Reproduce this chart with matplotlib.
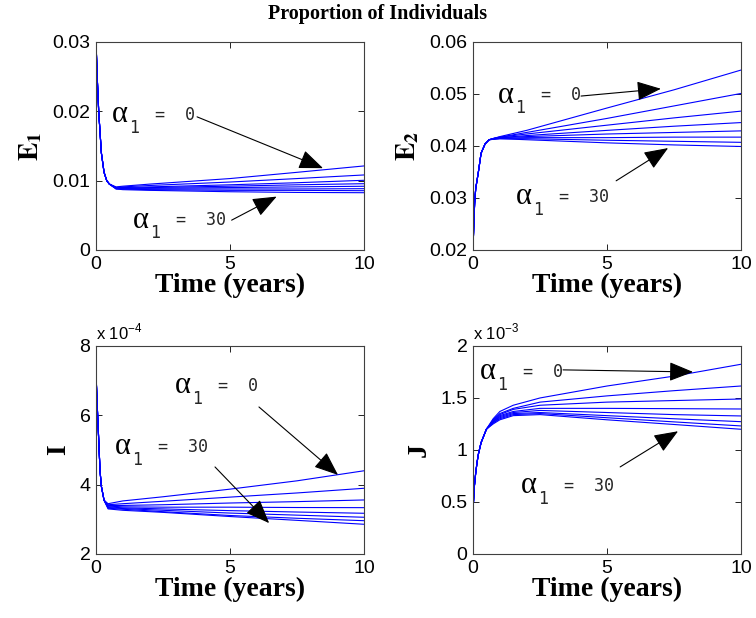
import matplotlib.pyplot as plt

plt.rcParams['font.family'] = 'Liberation Sans'
plt.rcParams['mathtext.fontset'] = 'stix'

# --- values ---
# E1 panel: shared fast transient, then 8 curves (alpha1 = 0 ... 30)
e1_t_early = [0, 0.05, 0.1, 0.2, 0.3, 0.4, 0.5]
e1_early = [0.0300, 0.0245, 0.0200, 0.0140, 0.0112, 0.0100, 0.0095]
e1_t_late = [0.75, 1, 2, 5, 7.5, 10]
e1_late = [
    [0.0091, 0.0092, 0.0095, 0.0103, 0.0112, 0.01212],
    [0.0090, 0.0091, 0.0093, 0.0098, 0.0103, 0.01082],
    [0.0090, 0.0090, 0.0091, 0.0094, 0.0097, 0.01005],
    [0.0089, 0.0089, 0.0090, 0.0092, 0.0094, 0.00956],
    [0.0089, 0.0089, 0.0089, 0.0090, 0.0091, 0.00919],
    [0.0089, 0.0088, 0.0088, 0.0088, 0.0088, 0.00884],
    [0.0088, 0.0088, 0.0087, 0.0086, 0.0086, 0.00855],
    [0.0088, 0.0087, 0.0086, 0.0084, 0.0083, 0.00826],
]

# E2 panel
e2_t_early = [0, 0.03, 0.06, 0.1, 0.2, 0.3, 0.45, 0.6]
e2_early = [0.0200, 0.0250, 0.0290, 0.0318, 0.0350, 0.0386, 0.0404, 0.0412]
e2_t_late = [0.8, 1, 2, 5, 7.5, 10]
e2_late = [
    [0.0415, 0.0418, 0.0430, 0.0473, 0.0508, 0.0546],
    [0.0415, 0.0417, 0.0426, 0.0453, 0.0477, 0.0501],
    [0.0415, 0.0417, 0.0423, 0.0440, 0.0454, 0.0467],
    [0.0414, 0.0416, 0.0420, 0.0430, 0.0438, 0.0445],
    [0.0414, 0.0416, 0.0418, 0.0423, 0.0426, 0.0429],
    [0.0414, 0.0415, 0.0416, 0.0416, 0.0417, 0.0417],
    [0.0413, 0.0414, 0.0414, 0.0411, 0.0409, 0.0407],
    [0.0413, 0.0414, 0.0412, 0.0406, 0.0402, 0.0399],
]

# I panel (units of 1e-4)
i_t_early = [0, 0.05, 0.1, 0.15, 0.2, 0.3]
i_early = [7.2, 6.2, 5.3, 4.4, 3.95, 3.55]
i_t_late = [0.45, 1, 2.5, 5, 7.5, 10]
i_late = [
    [3.45, 3.53, 3.65, 3.87, 4.11, 4.40],
    [3.42, 3.45, 3.52, 3.64, 3.76, 3.895],
    [3.40, 3.40, 3.42, 3.47, 3.51, 3.558],
    [3.38, 3.36, 3.35, 3.35, 3.34, 3.336],
    [3.36, 3.33, 3.30, 3.25, 3.21, 3.174],
    [3.34, 3.31, 3.26, 3.18, 3.12, 3.059],
    [3.32, 3.29, 3.22, 3.11, 3.03, 2.96],
    [3.30, 3.26, 3.20, 3.08, 2.97, 2.857],
]

# J panel (units of 1e-3)
j_t_early = [0, 0.05, 0.1, 0.15, 0.2, 0.3, 0.5]
j_early = [0.42, 0.65, 0.78, 0.88, 0.96, 1.07, 1.20]
j_t_late = [0.75, 1, 1.5, 2.5, 5, 7.5, 10]
j_late = [
    [1.30, 1.37, 1.43, 1.50, 1.615, 1.71, 1.824],
    [1.29, 1.35, 1.40, 1.46, 1.52, 1.57, 1.615],
    [1.28, 1.34, 1.39, 1.43, 1.46, 1.475, 1.490],
    [1.27, 1.33, 1.37, 1.40, 1.40, 1.397, 1.394],
    [1.27, 1.32, 1.36, 1.38, 1.36, 1.34, 1.327],
    [1.26, 1.31, 1.35, 1.36, 1.33, 1.30, 1.272],
    [1.26, 1.30, 1.34, 1.35, 1.31, 1.27, 1.231],
    [1.25, 1.29, 1.33, 1.34, 1.29, 1.245, 1.199],
]

x_ticks = [0, 5, 10]
e1_ticks = [0, 0.01, 0.02, 0.03]
e1_labels = ['0', '0.01', '0.02', '0.03']
e2_ticks = [0.02, 0.03, 0.04, 0.05, 0.06]
e2_labels = ['0.02', '0.03', '0.04', '0.05', '0.06']
i_ticks = [2, 4, 6, 8]
i_labels = ['2', '4', '6', '8']
j_ticks = [0, 0.5, 1, 1.5, 2]
j_labels = ['0', '0.5', '1', '1.5', '2']

serif = 'Liberation Serif'
mono = 'DejaVu Sans Mono'


def panel(ax, t_early, early, t_late, late, ylim, yticks, ylabels, ylab):
    for row in late:
        ax.plot(t_early + t_late, early + row, color='b', lw=0.8)
    ax.set_xlim(0, 10)
    ax.set_ylim(*ylim)
    ax.set_xticks(x_ticks)
    ax.set_xticklabels([str(v) for v in x_ticks])
    ax.set_yticks(yticks)
    ax.set_yticklabels(ylabels)
    ax.tick_params(direction='in', top=True, right=True, length=4,
                   labelsize=14, pad=4, width=0.6)
    for s in ax.spines.values():
        s.set_linewidth(0.8)
        s.set_color('0.25')
    ax.set_xlabel('Time (years)', fontsize=20, fontweight='bold',
                  family=serif, labelpad=0)
    ax.set_ylabel(ylab, fontsize=20, fontweight='bold', family=serif,
                  labelpad=6)


def alpha_label(ax, x, y, val):
    ax.text(x, y, 'α', fontsize=22, va='center', ha='left', family=serif)
    ax.annotate('1', xy=(x, y), xytext=(12.5, -9.5), textcoords='offset points',
                fontsize=12, family=mono, va='center', ha='left', color='0.15')
    ax.annotate('=  ' + val, xy=(x, y), xytext=(31, 0),
                textcoords='offset points', fontsize=12, family=mono,
                va='center', ha='left', color='0.15')


def arrow(ax, start, tip):
    ax.annotate('', xy=tip, xytext=start,
                arrowprops=dict(arrowstyle='-|>,head_length=0.75,head_width=0.3',
                                color='k', lw=0.8, shrinkA=0, shrinkB=0,
                                mutation_scale=20))


fig = plt.figure(figsize=(7.56, 6.18), dpi=100)
w, h = 0.3545, 0.3366
ax1 = fig.add_axes([0.127, 0.5955, w, h])
ax2 = fig.add_axes([0.6257, 0.5955, w, h])
ax3 = fig.add_axes([0.127, 0.1036, w, h])
ax4 = fig.add_axes([0.6257, 0.1036, w, h])

panel(ax1, e1_t_early, e1_early, e1_t_late, e1_late, (0, 0.03),
      e1_ticks, e1_labels, r'$\mathbf{E_1}$')
panel(ax2, e2_t_early, e2_early, e2_t_late, e2_late, (0.02, 0.06),
      e2_ticks, e2_labels, r'$\mathbf{E_2}$')
panel(ax3, i_t_early, i_early, i_t_late, i_late, (2, 8),
      i_ticks, i_labels, 'I')
panel(ax4, j_t_early, j_early, j_t_late, j_late, (0, 2),
      j_ticks, j_labels, 'J')

ax3.text(0.0, 1.015, r'x 10$^{\mathregular{-4}}$', transform=ax3.transAxes,
         fontsize=12, va='bottom', ha='left')
ax4.text(0.0, 1.015, r'x 10$^{\mathregular{-3}}$', transform=ax4.transAxes,
         fontsize=12, va='bottom', ha='left')

# annotations
alpha_label(ax1, 0.60, 0.0195, '0')
arrow(ax1, (3.77, 0.0192), (8.47, 0.0118))
alpha_label(ax1, 1.38, 0.0043, '30')
arrow(ax1, (5.06, 0.0043), (6.74, 0.0077))

alpha_label(ax2, 0.93, 0.0498, '0')
arrow(ax2, (4.03, 0.0496), (7.01, 0.0510))
alpha_label(ax2, 1.60, 0.0302, '30')
arrow(ax2, (5.34, 0.0333), (7.28, 0.0396))

alpha_label(ax3, 2.95, 6.85, '0')
arrow(ax3, (6.08, 6.24), (9.03, 4.28))
alpha_label(ax3, 0.71, 5.09, '30')
arrow(ax3, (4.44, 4.51), (6.46, 2.89))

alpha_label(ax4, 0.26, 1.75, '0')
arrow(ax4, (3.36, 1.77), (8.21, 1.75))
alpha_label(ax4, 1.79, 0.654, '30')
arrow(ax4, (5.49, 0.837), (7.65, 1.18))

fig.text(0.5, 0.978, 'Proportion of Individuals', ha='center', va='center',
         fontsize=14.5, fontweight='bold', family=serif)

fig.savefig('out.png', dpi=100)
